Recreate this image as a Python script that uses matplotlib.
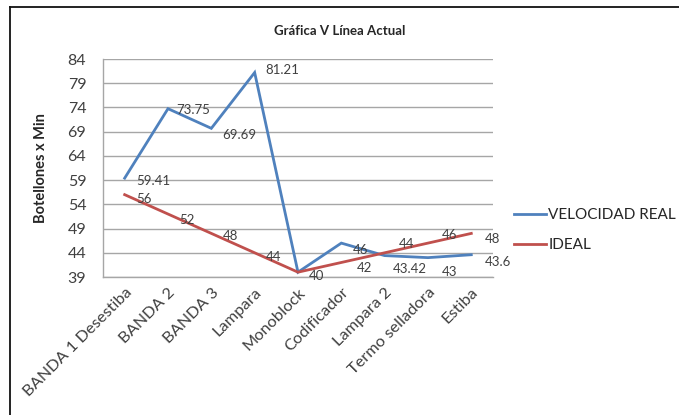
import matplotlib
matplotlib.use("Agg")
import matplotlib.pyplot as plt
from matplotlib.lines import Line2D
import matplotlib.transforms as mtransforms

plt.rcParams['font.family'] = ['Lato', 'DejaVu Sans']

categories = ["BANDA 1 Desestiba", "BANDA 2", "BANDA 3", "Lampara", "Monoblock",
              "Codificador", "Lampara 2", "Termo selladora", "Estiba"]
velocidad_real = [59.41, 73.75, 69.69, 81.21, 40, 46, 43.42, 43, 43.6]
ideal = [56, 52, 48, 44, 40, 42, 44, 46, 48]
yticks = [39, 44, 49, 54, 59, 64, 69, 74, 79, 84]

# label offsets in points (style only)
real_dx = [8, 6, 8, 8, 8, 8, 6, 10, 10]
real_dy = [-2, -1, -5, 2, 0, -5, -10, -10, -5]
ideal_dx = [8, 8, 8, 8, 8, 11, 10, 10, 10]
ideal_dy = [-3, -4, -2, -3, -3, -4, 6, 6, -4]

blue = "#4F81BD"
red = "#C0504D"

fig = plt.figure(figsize=(6.79, 4.15), dpi=100)
ax = fig.add_axes([0.1517, 0.3325, 0.726 - 0.1517, 0.8578 - 0.3325])

x = list(range(len(categories)))
l1, = ax.plot(x, velocidad_real, color=blue, lw=2.0, solid_joinstyle='miter', label="VELOCIDAD REAL", zorder=3)
l2, = ax.plot(x, ideal, color=red, lw=2.0, solid_joinstyle='miter', label="IDEAL", zorder=4)

for i, v in enumerate(velocidad_real):
    if i == 4:
        continue
    ax.annotate(f"{v:g}", (i, v), xytext=(real_dx[i], real_dy[i]), textcoords="offset points",
                ha="left", va="center", fontsize=9.5, color="#404040", zorder=5)
for i, v in enumerate(ideal):
    ax.annotate(f"{v:g}", (i, v), xytext=(ideal_dx[i], ideal_dy[i]), textcoords="offset points",
                ha="left", va="center", fontsize=9.5, color="#404040", zorder=5)

ax.set_xlim(-0.5, len(categories) - 0.5)
ax.set_ylim(39, 84)
ax.set_yticks(yticks)
ax.set_yticklabels([str(t) for t in yticks], fontsize=11.5, color="#404040")
ax.set_xticks(x)
ax.set_xticklabels(categories, rotation=45, ha="right", va="top", rotation_mode="anchor",
                   fontsize=11.8, color="#404040")
offset = mtransforms.ScaledTranslation(9 / 100, -2 / 100, fig.dpi_scale_trans)
for lab in ax.get_xticklabels():
    lab.set_transform(lab.get_transform() + offset)

ax.tick_params(axis='both', length=0)
ax.tick_params(axis='y', pad=12)
ax.tick_params(axis='x', pad=6)
ax.grid(axis='y', color="#a6a6a6", lw=1.0)
ax.set_axisbelow(True)
for s in ["top", "right"]:
    ax.spines[s].set_visible(False)
for s in ["left", "bottom"]:
    ax.spines[s].set_color("#a6a6a6")
    ax.spines[s].set_linewidth(1.0)

ax.set_ylabel("Botellones x Min", fontsize=10.5, fontweight="bold", color="#262626", labelpad=10)
ax.yaxis.set_label_coords(-0.14, 0.5)

fig.text(0.5, 1 - 31 / 415, "Gráfica V Línea Actual", ha="center", va="center",
         fontsize=9.5, fontweight="bold", color="#262626")

leg = fig.legend(handles=[l1, l2], loc="upper left", bbox_to_anchor=(508 / 679, 1 - 202 / 415),
                 frameon=False, fontsize=11, handlelength=2.1, handletextpad=0.15,
                 labelspacing=1.05, borderaxespad=0)
for t in leg.get_texts():
    t.set_color("#262626")

# outer frame (left and top edges)
fig.add_artist(Line2D([10 / 679, 10 / 679], [0, 1 - 7 / 415], transform=fig.transFigure,
                      color="#111111", lw=1.3))
fig.add_artist(Line2D([10 / 679, 1], [1 - 7 / 415, 1 - 7 / 415], transform=fig.transFigure,
                      color="#111111", lw=1.3))

fig.savefig("out.png", dpi=100)
